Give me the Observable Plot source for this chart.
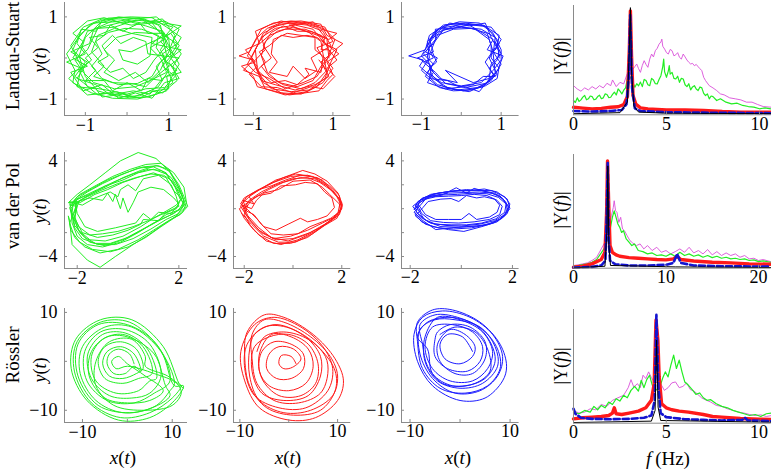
<!DOCTYPE html>
<html><head><meta charset="utf-8">
<script src="https://cdn.jsdelivr.net/npm/d3@7"></script>
<script src="https://cdn.jsdelivr.net/npm/@observablehq/plot@0.6"></script>
<style>
body{margin:0;background:#fff;}
#fig{position:relative;width:771px;height:471px;overflow:hidden;font-family:"Liberation Serif","Times New Roman",serif;color:#000;background:#fff;}
.lbl{position:absolute;white-space:nowrap;transform:translate(-50%,-50%);line-height:1;}
.rot{transform:translate(-50%,-50%) rotate(-90deg);}
i{font-style:italic;}
</style></head><body><div id="fig"></div>
<script>
// ---------------- data ----------------
const rowNames = ["Landau-Stuart", "van der Pol", "Rössler"];

const lsTicks = [-1, 0, 1], lsLabels = [-1, 1];
const vdpXTicks = [-2, 0, 2], vdpXLabels = [-2, 2];
const vdpYTicks = [-4, -2, 0, 2, 4], vdpYLabels = [-4, 4];
const rosTicks = [-10, 0, 10], rosLabels = [-10, 10];
const specTicksA = [0, 5, 10], specTicksB = [0, 10, 20];

const lsGreen = [[1.05,0.05],[1.0,0.45],[0.75,0.8],[0.3,0.97],[-0.2,0.98],[-0.65,0.85],[-1.0,0.5],[-1.15,0.05],[-1.0,-0.45],[-0.7,-0.8],[-0.2,-0.95],[0.3,-0.92],[0.75,-0.7],[1.0,-0.3],
[0.85,0.1],[1.2,0.35],[0.8,0.6],[0.6,0.85],[0.1,0.8],[-0.35,0.9],[-0.8,0.7],[-0.9,0.35],[-1.35,0.15],[-0.95,-0.1],[-1.2,-0.5],[-0.75,-0.65],[-0.4,-0.9],[0.15,-0.8],[0.55,-0.88],[0.85,-0.5],[1.2,-0.3],[0.9,-0.05],
[0.7,0.25],[0.75,0.55],[0.35,0.7],[-0.05,0.72],[-0.45,0.62],[-0.75,0.4],[-0.6,0.1],[-0.85,-0.2],[-0.6,-0.5],[-0.2,-0.65],[0.25,-0.62],[0.6,-0.45],[0.8,-0.1],
[1.1,0.15],[1.3,0.5],[0.95,0.75],[0.6,0.98],[0.1,1.0],[-0.45,0.97],[-0.9,0.8],[-1.2,0.45],[-1.45,0.1],[-1.25,-0.3],[-1.3,-0.6],[-0.85,-0.85],[-0.35,-0.98],[0.25,-1.0],[0.7,-0.88],[1.1,-0.6],[0.95,-0.25],[1.25,0.0],
[0.5,0.1],[0.45,0.4],[0.15,0.5],[-0.15,0.35],[-0.35,0.55],[-0.6,0.3],[-0.45,0.05],[-0.7,-0.1],[-0.4,-0.35],[-0.1,-0.25],[0.15,-0.5],[0.45,-0.35],[0.65,-0.05],
[0.95,0.3],[0.85,0.65],[0.45,0.78],[0.0,0.9],[-0.5,0.78],[-0.95,0.65],[-1.1,0.3],[-0.85,-0.05],[-1.15,-0.3],[-0.95,-0.7],[-0.5,-0.78],[0.0,-0.88],[0.45,-0.75],[0.9,-0.72],[1.15,-0.45],[0.85,-0.2],[1.1,0.1],
[0.8,0.4],[1.1,0.75],[0.7,0.88],[0.2,0.92],[-0.3,0.75],[-0.7,0.72],[-0.95,0.2],[-1.25,-0.05],[-1.05,-0.35],[-0.8,-0.6],[-0.3,-0.75],[0.2,-0.7],[0.55,-0.55],[0.95,-0.35],[0.8,0.0],[0.55,0.25],[0.9,0.45],
[0.6,0.6],[0.2,0.62],[-0.25,0.5],[-0.55,0.2],[-0.3,-0.05],[-0.55,-0.35],[-0.2,-0.55],[0.2,-0.35],[0.5,-0.6],[0.8,-0.3],[1.0,0.15],[1.15,0.55],[0.85,0.95],[0.35,0.85],[-0.15,0.95],[-0.6,0.95],[-1.05,0.75],[-1.35,0.3],[-1.1,-0.2],[-1.4,-0.5],[-0.95,-0.9],[-0.45,-0.85],[0.05,-0.97],[0.5,-0.95],[0.95,-0.8],[1.05,-0.5],[1.25,-0.15],[1.0,0.3],
[0.9,0.5],[1.3,0.78],[0.9,0.85],[0.7,1.0],[0.2,0.95],[-0.2,1.0],[-0.6,0.9],[-0.75,0.65],[-1.1,0.7],[-1.2,0.35],[-1.0,0.1],[-1.45,-0.1],[-1.1,-0.25],[-1.2,-0.7],[-0.75,-0.75],[-0.6,-0.95],[-0.1,-0.88],[0.3,-0.98],[0.65,-0.8],[1.0,-0.75],[0.95,-0.45],[1.3,-0.35],[1.05,0.0],[1.3,0.2],
[0.6,0.35],[0.9,0.6],[0.5,0.6],[0.3,0.85],[-0.1,0.65],[-0.4,0.8],[-0.55,0.55],[-0.9,0.5],[-0.7,0.25],[-1.0,0.0],[-0.75,-0.3],[-1.0,-0.55],[-0.55,-0.55],[-0.35,-0.8],[0.0,-0.6],[0.35,-0.8],[0.5,-0.5],[0.85,-0.55],[0.7,-0.2],[0.95,0.05],
[0.8,0.8],[0.4,0.95],[-0.1,0.85],[-0.55,0.98],[-0.95,0.9],[-1.3,0.6],[-1.05,0.4],[-1.3,0.0],[-0.95,-0.2],[-1.35,-0.35],[-1.05,-0.8],[-0.6,-0.65],[-0.2,-0.98],[0.2,-0.85],[0.6,-0.98],[0.9,-0.6],[1.25,-0.5],[1.0,-0.1],[1.25,0.3],[1.05,0.6],
[0.4,0.3],[0.1,0.15],[-0.2,0.2],[-0.1,-0.05],[0.25,-0.15],[0.55,0.05],[0.6,0.5],[0.1,0.6],[-0.3,0.72],[-0.7,0.55],[-0.85,0.15],[-0.55,-0.2],[-0.8,-0.45],[-0.35,-0.6],[0.1,-0.62],[0.45,-0.7],[0.7,-0.45],[1.0,-0.2],[0.8,0.2],[1.0,0.5],[0.7,0.7],
[0.3,0.98],[-0.3,0.88],[-0.8,0.85],[-1.15,0.55],[-1.3,0.2],[-1.0,-0.1],[-1.25,-0.45],[-1.05,-0.6],[-0.7,-0.9],[-0.25,-0.82],[0.15,-0.95],[0.55,-0.8],[0.85,-0.85],[1.2,-0.55],[1.1,-0.2],[1.3,0.1],[1.1,0.4],[1.25,0.7],[0.9,0.9],[0.5,0.85]];

const lsRed = [[0.9,0.0],[0.85,0.45],[0.6,0.75],[0.15,0.87],[-0.35,0.82],[-0.75,0.6],[-0.95,0.2],[-0.9,-0.25],[-0.75,-0.6],[-0.3,-0.85],[0.2,-0.88],[0.6,-0.7],[0.85,-0.35],
[0.75,0.1],[0.7,0.4],[0.4,0.62],[0.0,0.75],[-0.4,0.65],[-0.7,0.4],[-0.8,0.05],[-0.65,-0.35],[-0.35,-0.6],[0.1,-0.7],[0.5,-0.55],[0.7,-0.2],
[1.0,0.15],[1.25,0.35],[0.85,0.55],[0.7,0.82],[0.2,0.9],[-0.25,0.88],[-0.65,0.72],[-0.9,0.5],[-1.1,0.15],[-1.36,0.05],[-1.0,-0.05],[-1.25,-0.3],[-0.85,-0.45],[-0.7,-0.75],[-0.2,-0.9],[0.35,-0.82],[0.75,-0.6],[1.0,-0.25],[0.8,0.0],
[0.55,0.2],[0.55,0.5],[0.2,0.55],[-0.15,0.6],[-0.5,0.45],[-0.55,0.1],[-0.4,-0.1],[-0.6,-0.35],[-0.15,-0.45],[0.0,-0.2],[0.3,-0.5],[0.6,-0.3],[0.45,0.0],
[0.95,0.3],[0.75,0.65],[0.35,0.8],[-0.1,0.85],[-0.55,0.75],[-0.85,0.4],[-1.05,0.0],[-0.85,-0.4],[-0.55,-0.75],[-0.05,-0.82],[0.4,-0.78],[0.8,-0.5],[0.95,-0.1],[1.1,0.2],
[0.8,0.35],[0.5,0.7],[0.05,0.8],[-0.45,0.72],[-0.8,0.5],[-0.7,0.2],[-1.0,-0.1],[-0.8,-0.55],[-0.45,-0.65],[0.05,-0.78],[0.55,-0.65],[0.9,-0.45],[0.7,-0.1],[0.95,0.1],
[0.7,0.55],[0.3,0.7],[-0.2,0.7],[-0.6,0.55],[-0.9,0.3],[-1.15,-0.15],[-0.95,-0.35],[-0.6,-0.5],[-0.2,-0.75],[0.25,-0.6],[0.6,-0.45],[0.85,-0.05],[1.05,0.45],[0.8,0.7],[0.35,0.85],[-0.1,0.8],
[0.9,0.45],[1.1,0.6],[0.7,0.7],[0.5,0.88],[0.1,0.82],[-0.3,0.9],[-0.6,0.8],[-0.95,0.65],[-0.85,0.35],[-1.2,0.2],[-0.95,-0.1],[-1.3,-0.2],[-1.0,-0.45],[-0.9,-0.7],[-0.5,-0.8],[-0.1,-0.9],[0.3,-0.85],[0.65,-0.8],[0.85,-0.55],[1.0,-0.4],[0.85,-0.1],[1.15,0.1],
[0.6,0.5],[0.35,0.55],[0.0,0.5],[-0.3,0.55],[-0.6,0.3],[-0.85,0.15],[-0.7,-0.1],[-0.9,-0.3],[-0.55,-0.6],[-0.2,-0.55],[0.1,-0.65],[0.4,-0.4],[0.3,-0.25],[0.7,-0.35],[0.75,0.0],[0.6,0.25],
[1.0,0.4],[0.8,0.75],[0.4,0.85],[-0.05,0.9],[-0.5,0.85],[-0.8,0.7],[-1.0,0.35],[-1.15,0.05],[-0.9,-0.2],[-1.1,-0.4],[-0.8,-0.7],[-0.4,-0.72],[0.0,-0.85],[0.45,-0.7],[0.75,-0.75],[1.05,-0.45],[0.85,-0.25],[1.1,-0.05],[0.9,0.2],
[0.7,0.2],[0.8,0.5],[0.45,0.65],[0.1,0.65],[-0.25,0.78],[-0.55,0.62],[-0.75,0.3],[-0.55,0.0],[-0.8,-0.2],[-0.6,-0.45],[-0.25,-0.65],[0.2,-0.75],[0.55,-0.6],[0.85,-0.3],[0.65,-0.05]];

const lsBlue = [[0.95,0.0],[0.9,0.45],[0.6,0.78],[0.1,0.85],[-0.4,0.8],[-0.75,0.5],[-0.85,0.05],[-0.75,-0.4],[-0.45,-0.7],[0.05,-0.8],[0.55,-0.7],[0.85,-0.35],
[0.8,0.1],[0.85,0.5],[0.5,0.7],[0.0,0.75],[-0.45,0.68],[-0.7,0.35],[-0.95,0.1],[-0.7,-0.15],[-0.85,-0.35],[-0.5,-0.6],[0.0,-0.68],[0.5,-0.6],[0.8,-0.3],[1.0,-0.05],
[1.0,0.2],[0.8,0.6],[0.45,0.85],[-0.05,0.88],[-0.5,0.75],[-0.8,0.55],[-0.9,0.2],[-1.32,0.05],[-0.95,-0.05],[-1.05,-0.2],[-0.7,-0.5],[-0.3,-0.75],[0.2,-0.82],[0.65,-0.62],[0.95,-0.25],[0.75,0.0],
[0.75,0.3],[0.65,0.6],[0.25,0.72],[-0.2,0.7],[-0.6,0.55],[-0.75,0.2],[-0.62,-0.1],[-0.8,-0.25],[-0.55,-0.5],[-0.1,-0.6],[-0.4,-0.3],[0.3,-0.6],[0.7,-0.5],[0.75,-0.15],[1.0,0.1],[0.85,0.4],
[0.9,0.25],[0.95,0.55],[0.55,0.8],[0.05,0.82],[-0.55,0.72],[-0.85,0.4],[-0.8,0.0],[-1.0,-0.3],[-0.6,-0.65],[-0.1,-0.78],[0.4,-0.72],[0.75,-0.55],[1.0,-0.15],[0.8,0.15],
[0.7,0.45],[0.35,0.7],[-0.15,0.78],[-0.6,0.62],[-0.85,0.3],[-0.7,0.0],[-0.95,-0.1],[-0.65,-0.35],[-0.4,-0.62],[0.1,-0.72],[0.6,-0.62],[0.9,-0.4],[0.7,0.0],[0.95,0.35],
[0.85,0.2],[1.0,0.45],[0.75,0.75],[0.3,0.8],[-0.1,0.85],[-0.45,0.8],[-0.7,0.6],[-0.85,0.3],[-1.0,0.05],[-0.75,-0.2],[-0.9,-0.45],[-0.55,-0.72],[-0.2,-0.8],[0.25,-0.78],[0.6,-0.68],[0.9,-0.5],[0.95,-0.2],[1.05,0.05],
[0.65,0.2],[0.8,0.45],[0.55,0.6],[0.2,0.8],[-0.25,0.72],[-0.65,0.7],[-0.65,0.45],[-0.9,0.15],[-0.6,0.0],[-0.75,-0.2],[-0.8,-0.5],[-0.35,-0.55],[-0.05,-0.7],[0.3,-0.65],[0.55,-0.45],[0.85,-0.45],[0.7,-0.25],[0.9,-0.05],
[0.95,0.15],[0.75,0.5],[0.6,0.85],[0.2,0.78],[-0.3,0.85],[-0.55,0.6],[-0.8,0.45],[-0.7,0.15],[-1.1,0.0],[-0.8,-0.15],[-0.7,-0.35],[-0.85,-0.6],[-0.4,-0.75],[0.1,-0.7],[0.45,-0.82],[0.8,-0.4],[0.6,-0.1],[0.85,0.25]];

const vdpGreen = [[-2.2,0.5],[-1.8,1.0],[-1.2,1.6],[-0.5,2.3],[0.2,2.9],[0.8,3.3],[1.3,3.2],[1.7,2.6],[2.0,1.6],[2.2,0.7],[2.1,0.0],[1.6,-0.6],[1.0,-1.2],[0.4,-2.0],[-0.3,-2.8],[-1.0,-3.2],[-1.6,-3.0],[-2.0,-2.3],[-2.2,-1.2],[-2.25,0.0],
[-2.0,0.8],[-1.5,1.2],[-0.9,1.8],[-0.2,2.6],[0.5,3.2],[1.1,3.6],[1.6,3.3],[1.9,2.2],[2.15,1.0],[1.9,0.3],[1.5,-0.2],[1.0,-0.8],[0.5,-1.5],[-0.2,-2.3],[-0.9,-2.7],[-1.5,-2.6],[-1.95,-1.8],[-2.2,-0.5],[-2.3,0.6],
[-1.8,0.3],[-1.3,0.9],[-0.7,1.4],[-0.4,1.0],[-0.3,1.6],[0.0,2.0],[0.3,1.5],[0.6,2.5],[1.2,2.8],[1.7,2.0],[1.9,1.0],[2.0,0.2],[1.5,-0.3],[1.2,-1.0],[0.6,-0.9],[0.5,-1.3],[0.0,-1.8],[-0.6,-2.2],[-1.2,-2.4],[-1.8,-2.0],[-2.1,-0.8],[-2.0,0.2],
[-2.3,0.3],[-1.9,1.2],[-1.3,1.9],[-0.6,2.7],[0.1,3.3],[0.7,3.7],[1.3,3.8],[1.8,3.0],[2.2,1.8],[2.3,0.5],[2.15,-0.3],[1.8,-0.8],[1.3,-1.5],[0.7,-2.4],[0.0,-3.2],[-0.7,-3.6],[-1.4,-3.4],[-1.9,-2.8],[-2.25,-1.8],[-2.35,-0.6],
[-2.3,-1.0],[-2.2,-3.0],[-1.6,-4.3],[-1.1,-4.9],[-0.5,-4.0],[0.2,-3.0],[0.8,-2.2],[1.4,-1.3],[1.9,-0.6],[2.25,0.4],[2.0,1.8],[1.6,3.2],[1.1,4.2],[0.4,4.7],[-0.3,4.0],[-0.9,3.0],[-1.5,2.0],[-2.0,1.2],[-2.35,0.5],
[-2.0,0.6],[-1.5,0.9],[-1.0,0.7],[-0.8,1.3],[-0.6,0.6],[-0.5,1.2],[-0.3,0.0],[-0.2,0.9],[0.0,-0.3],[0.2,0.5],[0.4,1.4],[0.9,1.8],[1.4,1.6],[1.8,0.9],[2.0,0.4],[1.7,-0.4],[1.2,-0.3],[0.9,-0.9],[0.6,-0.4],[0.3,-1.2],[-0.5,-1.6],[-1.2,-1.9],[-1.7,-1.5],[-2.0,-0.4],
[-2.1,0.7],[-1.6,1.4],[-1.0,2.1],[-0.3,2.8],[0.4,3.4],[1.0,3.5],[1.5,3.0],[1.85,1.8],[2.05,0.8],[2.3,0.2],[2.0,-0.4],[1.5,-0.9],[0.9,-1.7],[0.2,-2.5],[-0.5,-3.0],[-1.2,-3.0],[-1.7,-2.4],[-2.1,-1.4],[-2.2,-0.3],[-2.15,0.6],
[-1.9,0.5],[-1.3,1.2],[-0.8,1.6],[-0.2,2.2],[0.5,2.7],[1.0,3.0],[1.5,2.6],[1.8,1.5],[2.1,0.9],[1.9,0.0],[1.3,-0.5],[0.8,-1.0],[0.2,-1.5],[-0.4,-1.9],[-1.0,-2.1],[-1.5,-2.2],[-1.95,-1.5],[-2.15,-0.4],[-2.0,0.5],
[-2.2,0.3],[-1.7,0.9],[-1.1,1.5],[-0.4,2.1],[0.3,2.6],[0.9,2.9],[1.4,2.8],[1.75,2.3],[2.0,1.3],[2.2,0.3],[1.8,-0.4],[1.3,-0.9],[0.7,-1.6],[0.0,-2.4],[-0.7,-2.9],[-1.3,-2.9],[-1.8,-2.5],[-2.1,-1.6],[-2.2,-0.6],
[-2.3,0.1],[-2.0,1.0],[-1.4,1.7],[-0.8,2.4],[-0.1,3.0],[0.6,3.5],[1.2,3.6],[1.65,3.1],[2.0,2.0],[2.2,1.0],[2.35,0.2],[2.05,-0.5],[1.6,-1.0],[1.0,-1.8],[0.4,-2.6],[-0.4,-3.4],[-1.1,-3.7],[-1.7,-3.2],[-2.1,-2.4],[-2.3,-1.2],
[-1.9,0.7],[-1.4,1.3],[-0.9,1.9],[-0.2,2.4],[0.4,3.0],[1.0,3.3],[1.5,2.9],[1.8,2.0],[2.1,1.2],[2.2,0.6],[2.0,-0.1],[1.5,-0.5],[1.1,-1.1],[0.5,-1.8],[-0.2,-2.6],[-0.9,-3.1],[-1.5,-2.8],[-1.9,-2.0],[-2.1,-0.9],[-2.05,0.2]];

const vdpRed = [[-1.9,0.2],[-1.6,0.9],[-1.0,1.6],[-0.4,2.2],[0.3,2.6],[0.9,2.5],[1.4,1.9],[1.8,1.0],[2.0,0.2],[1.8,-0.6],[1.3,-1.3],[0.7,-2.0],[0.0,-2.5],[-0.7,-2.6],[-1.3,-2.0],[-1.7,-1.1],[-1.95,-0.4],
[-2.1,0.4],[-1.7,1.2],[-1.1,1.9],[-0.4,2.6],[0.4,3.2],[0.9,2.9],[1.4,2.3],[1.85,1.3],[2.03,0.3],[1.9,-0.5],[1.5,-1.1],[0.9,-1.9],[0.2,-2.6],[-0.5,-3.0],[-1.1,-2.7],[-1.6,-1.8],[-2.0,-0.8],[-2.2,0.0],
[-1.8,0.6],[-1.4,1.1],[-0.9,1.3],[-0.5,1.9],[0.1,2.0],[0.5,2.2],[1.0,2.1],[1.3,1.4],[1.6,0.9],[1.7,0.1],[1.4,-0.6],[1.0,-0.9],[0.6,-1.1],[0.3,-0.8],[-0.2,-1.3],[-0.7,-1.8],[-1.2,-1.5],[-1.5,-0.8],[-1.85,-0.1],[-2.15,0.4],
[-2.0,0.9],[-1.5,1.5],[-0.8,2.2],[-0.1,2.7],[0.6,2.8],[1.2,2.4],[1.6,1.6],[1.95,0.7],[1.85,-0.3],[1.6,-0.9],[1.1,-1.6],[0.5,-2.2],[-0.2,-2.7],[-0.9,-2.4],[-1.4,-1.6],[-1.85,-0.6],[-2.05,0.3],
[-1.7,0.0],[-1.5,0.7],[-1.2,1.3],[-0.6,1.6],[0.0,2.3],[0.7,2.4],[1.2,1.8],[1.5,1.2],[1.9,0.4],[1.95,-0.2],[1.55,-0.8],[1.2,-1.1],[0.7,-1.5],[0.2,-2.1],[-0.4,-2.2],[-0.9,-2.1],[-1.3,-1.3],[-1.6,-0.5],[-1.9,-0.2],
[-2.05,0.7],[-1.6,0.4],[-1.8,1.0],[-1.3,1.7],[-0.7,2.4],[0.1,2.9],[0.8,2.7],[1.3,2.1],[1.75,1.2],[2.0,0.5],[1.95,-0.1],[1.7,-0.7],[1.2,-1.5],[0.6,-2.4],[-0.1,-2.9],[-0.8,-2.9],[-1.4,-2.2],[-1.75,-1.4],[-2.0,-0.5],[-1.85,0.3],
[-2.0,0.0],[-1.8,0.7],[-1.3,1.4],[-0.7,2.0],[0.0,2.5],[0.6,2.6],[1.1,2.2],[1.6,1.5],[1.9,0.8],[2.0,0.0],[1.7,-0.7],[1.2,-1.2],[0.6,-1.8],[-0.1,-2.3],[-0.8,-2.5],[-1.4,-1.8],[-1.8,-0.9],
[-2.15,0.2],[-1.9,1.0],[-1.4,1.6],[-0.9,1.9],[-0.3,2.4],[0.3,2.8],[1.0,2.6],[1.5,1.9],[1.9,1.1],[2.0,0.1],[1.8,-0.8],[1.3,-1.4],[0.8,-2.1],[0.1,-2.8],[-0.6,-2.8],[-1.2,-2.3],[-1.7,-1.3],[-2.1,-0.4]];

const vdpBlue = [[-1.8,0.0],[-1.6,0.7],[-1.1,1.1],[-0.5,1.3],[0.1,1.35],[0.7,1.4],[1.2,1.3],[1.6,0.9],[1.85,0.2],[1.7,-0.5],[1.3,-1.0],[0.7,-1.3],[0.0,-1.45],[-0.6,-1.4],[-1.2,-1.2],[-1.6,-0.7],
[-1.9,0.2],[-1.5,0.9],[-0.9,1.3],[-0.3,1.5],[0.3,1.5],[0.9,1.65],[1.4,1.4],[1.8,0.8],[1.9,0.0],[1.6,-0.8],[1.1,-1.3],[0.4,-1.6],[-0.3,-1.7],[-0.9,-1.6],[-1.4,-1.3],[-1.8,-0.6],
[-1.5,0.1],[-1.3,0.6],[-0.8,0.8],[-0.4,0.85],[-0.1,0.6],[0.2,1.1],[0.6,0.9],[0.9,1.0],[1.3,0.8],[1.5,0.3],[1.4,-0.3],[1.1,-0.7],[0.6,-0.9],[0.3,-0.4],[0.0,-0.9],[-0.5,-0.9],[-1.0,-0.9],[-1.4,-0.5],
[-1.7,0.4],[-1.3,1.0],[-0.7,1.2],[-0.2,1.75],[0.2,1.3],[0.5,1.7],[1.0,1.4],[1.5,1.1],[1.75,0.5],[1.8,-0.2],[1.5,-0.9],[0.9,-1.4],[0.2,-1.5],[-0.4,-1.6],[-1.0,-1.75],[-1.5,-1.0],[-1.85,-0.3],
[-1.6,0.3],[-1.4,0.8],[-1.0,1.0],[-0.5,1.05],[0.0,1.1],[0.5,1.2],[1.0,1.1],[1.4,0.7],[1.6,0.2],[1.5,-0.5],[1.1,-0.9],[0.5,-1.1],[-0.1,-1.2],[-0.7,-1.15],[-1.2,-1.0],[-1.55,-0.4],[-1.7,0.2],
[-1.85,-0.1],[-1.7,0.6],[-1.2,1.2],[-0.6,1.4],[0.0,1.5],[0.6,1.55],[1.2,1.5],[1.7,1.0],[1.9,0.4],[1.8,-0.4],[1.4,-1.1],[0.8,-1.5],[0.1,-1.9],[-0.5,-1.75],[-1.1,-1.5],[-1.55,-1.1],[-1.8,-0.5],
[-1.75,-0.2],[-1.65,0.5],[-1.25,0.95],[-0.7,1.15],[-0.15,1.2],[0.45,1.3],[1.0,1.25],[1.45,0.95],[1.75,0.4],[1.7,-0.3],[1.35,-0.85],[0.8,-1.2],[0.2,-1.35],[-0.4,-1.35],[-1.0,-1.3],[-1.45,-0.9],
[-1.8,0.3],[-1.55,0.85],[-1.05,1.25],[-0.4,1.45],[0.2,1.6],[0.8,1.5],[1.3,1.3],[1.65,0.75],[1.85,0.1],[1.7,-0.6],[1.25,-1.2],[0.6,-1.45],[-0.1,-1.55],[-0.8,-1.5],[-1.3,-1.1],[-1.7,-0.4]];

const rosGreen = [[1.5,-0.5],[0.5,1.5],[-2,2.5],[-4,1.5],[-4.5,-0.5],[-3,-2.5],[-0.5,-2.5],[1.5,-1],
[3,-2],[1.5,1.5],[-1.5,3],[-4.5,2],[-5.5,-0.5],[-4,-3],[-1,-3.5],[2,-2.5],
[3.5,-1.5],[2,2.5],[-1.5,4],[-5,3],[-6.5,0],[-5,-3.5],[-1,-4.5],[2.5,-3.5],
[5.5,-2.5],[3.5,3],[-1,5.5],[-5.5,4.5],[-8,1],[-7,-4],[-2.5,-6.5],[2.5,-6],[5,-4],
[6.5,-3.5],[4.5,2.5],[-0.5,5.8],[-5.5,5.5],[-8.8,1.5],[-8,-3.5],[-4,-7],[1,-7.5],[5,-6.5],
[7.5,-3],[5,3.5],[-0.5,6.5],[-6,6],[-9.5,2],[-9,-4],[-4.5,-8],[1.5,-8.5],[6,-6.5],
[9.5,-4],[6.5,3.5],[0,7.5],[-6.5,7.5],[-11,3.5],[-11,-3],[-6.5,-9],[0.5,-10.5],[6.5,-9],[9.5,-6],
[10.5,-4.5],[7,2.8],[0.5,8],[-6,8],[-11.2,4],[-11.8,-2],[-8,-8.5],[-1.5,-11.5],[5,-10.5],[10,-7.5],[12,-5],
[11.5,-4.5],[8,3],[1,8.5],[-6,8.5],[-11.5,4.5],[-12.5,-1.5],[-9,-8],[-2,-12],[5,-11.5],[10.5,-8],[12.5,-5],
[10.5,-5],[7.5,2],[1,7],[-5,7],[-10,3],[-10.5,-2.5],[-7,-8],[-1,-10.5],[5.5,-9.5],[9.5,-7],
[8.5,-5],[6,1.5],[0,5],[-4.5,5],[-8,2],[-8.5,-3],[-5,-7.5],[0,-8.5],[5,-8],[8,-6],
[4,-3],[0,-0.5],[-2,1],[-3.5,0],[-2.5,-1.5],[0,-1],[6,-2.5],[11,-4.5],[12,-6.5],[10,-9],[4,-10],[-3,-9],[-7,-5],[-7,0],[-4,4],[1,4.5],[4,1],[4,-1],[9,-3],[12.5,-5.5]];

const rosRed = [[1.5,-0.5],[0.5,1],[-1.5,1.2],[-2,-0.5],[-1,-1.5],[0.8,-1.2],[2.5,0.5],[1,2.5],[-2,3],
[-4,1.5],[-4.5,-1.5],[-2.5,-3.5],[0.5,-3.5],[3,-1.5],[3,1.5],[0.5,3.5],[-3,4],
[-5.5,2],[-6,-2],[-4,-5],[0,-6],[3.5,-4.5],[5,-1],[4,2.5],[0.5,5],[-3.5,5.5],
[-6,1.5],[-5.5,-3.5],[-2,-7],[2.5,-7],[5.5,-4.5],[6,-0.5],[4,3.5],[0,5.5],[-4,5],
[-7,3],[-7.5,-2],[-5.5,-6.5],[-1,-8],[4,-7],[6.5,-3],[6.5,1],[4,4.5],[-0.5,7],[-5,7],
[-8.5,3.5],[-9,-1.5],[-7,-7],[-2,-9.5],[3.5,-9.5],[8,-6],[9,-1.5],[7,3],[2.5,7],[-3,9],[-7,7.5],
[-9.8,2],[-9,-4],[-6,-9.5],[0,-12],[5.5,-11.5],[10,-8],[11.2,-4],[9.5,0.5],[5,5.5],[-1,9],[-5,9.5],[-8.5,6],
[-9,1],[-8,-5],[-4.5,-9.5],[1,-11],[6.5,-10],[9.5,-6],[9.5,-2],[6.5,2.5],[2,6],[-3,7.5],[-7,5.5],
[-8,2.5],[-8,-3],[-6,-8],[-1,-10.5],[4.5,-10],[9,-7],[10,-3],[8.5,1],[4.5,5],[-1,8],[-5,8.5],[-7.5,5.5],
[-7.5,0.5],[-6.5,-4.5],[-3,-8],[2,-8.5],[6.5,-6.5],[8,-2.5],[7.5,1],[4,4.5],[-1,6],[-5,5],[-6.5,2]];

const rosBlue = [[2.5,2],[0.5,5],[-2.5,5.5],[-4,3.5],[-3,0.5],[0,-0.5],[2.5,1],[3,3],[1,5.5],[-2,6.5],
[-4.5,3.5],[-4,0],[-1,-2.5],[2.5,-2.5],[5,0.5],[5,4],[2,7],[-2,7.5],[-4.5,6],
[-5,4.5],[-5,1],[-2.5,-1.5],[1.5,-2],[4,0],[4.5,3],[2.5,6],[-1.5,7.5],
[-5.5,7],[-7,3],[-5.5,-1.5],[-2,-4],[2.5,-4],[5.5,-1.5],[6.5,2],[4.5,6],[0,8.5],[-4.5,9],
[-7,5],[-7,0],[-4.5,-4],[0,-5.5],[4.5,-4.5],[7.5,-1],[7,3],[4,7],[-1,8.5],[-5,8.5],
[-8,6.5],[-8,1.5],[-5.5,-3.5],[-1,-6.5],[4,-6],[7.5,-3],[8.5,1],[6.5,5.5],[2,9],[-3.5,10.3],[-7.5,9],
[-9.2,5.5],[-8.5,0],[-5.5,-5],[0,-8],[5,-7.5],[8.5,-4],[9.3,-1],[8,3.5],[4,8],[-1.5,10.5],[-5.5,10.5],[-8.5,8],
[-8.5,4],[-7.5,-1.5],[-4,-5.5],[1,-6.5],[5.5,-5],[8,-1.5],[7.5,2.5],[4.5,6.5],[-0.5,9],[-5,9.5],[-8,7.5],
[-7.5,3.5],[-6.5,-1],[-3.5,-4.5],[1,-5],[5,-3.5],[7,0],[6,4],[3,7.5],[-2,9],[-6.5,8],[-8.5,5],
[-6.5,2.5],[-5.5,-2.5],[-1.5,-5],[3,-4.5],[6,-2],[5.5,2.5],[3,6],[-1,7],[-4,5.5]];

// spectra: [f (Hz), |Y(f)| in arbitrary units]
const lsSpecMagenta = [[0,27.2],[0.2,24.1],[0.4,22],[0.6,25.1],[0.8,23.2],[1.0,26.3],[1.2,24.1],[1.4,27.2],[1.6,25.1],[1.8,29.4],[2.0,27.2],[2.1,32.5],[2.3,26.3],[2.5,30.3],[2.7,28.8],[2.85,36.5],[3.05,44],[3.2,42.7],[3.3,45],[3.4,47.4],[3.5,43],[3.6,39.6],[3.7,46],[3.8,50.5],[3.9,47],[4.0,44.3],[4.1,52],[4.2,56.7],[4.3,54],[4.4,59.8],[4.5,62],[4.6,65.9],[4.7,68],[4.75,70.6],[4.8,64],[4.9,61.3],[5.0,58],[5.1,56.7],[5.2,61],[5.3,59.8],[5.4,55],[5.5,56],[5.6,58],[5.7,53.6],[5.8,52],[5.9,56.7],[6.0,54],[6.1,51.1],[6.2,49],[6.3,47.4],[6.4,48],[6.5,45.8],[6.6,47],[6.7,44.9],[6.8,43],[6.9,41.2],[7.0,35],[7.1,31.9],[7.3,27.2],[7.5,25.1],[7.7,22.6],[7.9,19.5],[8.1,18.6],[8.4,15.8],[8.7,14.9],[9.0,13.9],[9.3,11.8],[9.6,11.8],[9.9,9.6],[10.2,7.7],[10.6,7.1]];
const lsSpecGreen = [[0,13.3],[0.1,11.5],[0.2,15.8],[0.3,12.5],[0.4,13.9],[0.5,16.5],[0.6,18],[0.7,14],[0.8,14.9],[0.9,17.5],[1.0,17],[1.1,14],[1.2,14.6],[1.3,17],[1.4,18.3],[1.5,15],[1.6,15.8],[1.7,19.5],[1.8,18.9],[1.9,16],[2.0,16.4],[2.1,19],[2.2,21.1],[2.3,18.5],[2.4,24.1],[2.5,22],[2.6,19.5],[2.7,23],[2.8,25.1],[2.95,38],[3.15,32],[3.3,25.7],[3.4,29],[3.5,27],[3.6,30.5],[3.7,26.3],[3.8,33],[3.9,31.9],[4.0,28],[4.1,27.2],[4.2,34],[4.3,32.5],[4.4,29],[4.5,28.8],[4.6,33],[4.7,36.5],[4.8,45],[4.85,52],[4.9,40],[5.0,35],[5.1,41],[5.15,45.8],[5.2,38],[5.3,39.6],[5.4,34],[5.5,33.4],[5.6,36],[5.7,30.3],[5.8,34],[5.9,33.4],[6.0,28],[6.1,26.3],[6.2,29],[6.3,23.2],[6.4,26],[6.5,27.2],[6.6,24],[6.7,22.6],[6.8,26],[6.9,25.1],[7.0,20],[7.1,18],[7.2,19.5],[7.3,14.9],[7.4,17.5],[7.5,17],[7.7,13.3],[7.9,14.9],[8.2,11.8],[8.5,10.2],[8.8,10.8],[9.1,8.7],[9.4,7.7],[9.7,7.1],[10.0,5.6],[10.3,6.5],[10.6,5.6]];
const lsSpecRed = [[0,7],[0.5,6.2],[1.0,5.5],[1.5,6],[2.0,7],[2.4,7.5],[2.7,9.5],[2.9,17],[3.0,60],[3.06,97],[3.12,55],[3.2,18],[3.35,10],[3.6,6.5],[4.0,5.5],[5,4.5],[6,4.5],[7,4],[8,3],[9,2.5],[10.6,2.5]];
const lsSpecBlue = [[0,3.5],[1,3],[2,3.5],[2.6,4.5],[2.85,10],[2.97,35],[3.05,93],[3.15,25],[3.3,6],[3.6,3.5],[5,2.5],[7,2],[10.6,1.5]];
const lsSpecBlack = [[0,1],[2.5,2],[2.9,12],[3.0,60],[3.06,100],[3.12,40],[3.25,8],[3.5,2.5],[5,1.5],[10.6,1]];

const vdpSpecMagenta = [[0,2.5],[0.5,3.1],[1.0,4],[1.5,4.9],[2.0,7.1],[2.5,10],[3.0,17.8],[3.4,24],[3.8,36],[4.1,48.5],[4.3,56],[4.4,62.3],[4.55,53],[4.7,51.5],[4.9,42.3],[5.1,47],[5.3,36.2],[5.5,34.7],[5.8,30],[6.1,25.5],[6.4,23.3],[6.8,20.9],[7.2,22.4],[7.6,17.8],[8.0,20.9],[8.5,16.3],[9.0,19.3],[9.5,14.7],[10.0,16.3],[10.5,13.2],[11.0,15.3],[11.5,17.8],[12.0,14.7],[12.5,19.3],[13.0,14.1],[13.5,16.3],[14.0,13.2],[14.5,17.2],[15.0,12.3],[15.5,15.3],[16.0,11.7],[16.5,14.1],[17.0,11.7],[17.5,13.2],[18.0,10.1],[18.5,11.7],[19.0,8.6],[19.5,9.2],[20.0,7.1],[20.5,8],[21.3,6.1]];
const vdpSpecGreen = [[0,1.8],[0.5,2.5],[1,3.4],[1.5,4],[2,5.5],[2.5,8],[3.0,14.1],[3.4,19.3],[3.9,33],[4.2,47],[4.4,53],[4.6,47],[4.8,40.8],[5.0,37.7],[5.2,33],[5.4,34.7],[5.7,27],[6.0,24],[6.3,20.9],[6.6,22.4],[7.0,16.3],[7.5,15.3],[8.0,13.2],[8.5,14.1],[9.0,11.7],[9.5,12.3],[10.0,11],[10.5,13.2],[11.0,11],[11.5,14.7],[12.0,11.7],[12.5,13.2],[13.0,11],[13.5,12.3],[14.0,10.1],[14.5,11.7],[15.0,9.8],[15.5,11],[16.0,9.2],[16.5,10.1],[17.0,8.6],[17.5,9.2],[18.0,8],[18.5,8.6],[19.0,7.1],[19.5,7.7],[20.0,6.1],[20.5,6.7],[21.3,5.5]];
const vdpSpecRed = [[0,0.9],[1,1.8],[2,4],[3,8],[3.4,14.7],[3.58,51.5],[3.68,99],[3.8,60.7],[3.95,21],[4.2,14.7],[4.6,12.3],[5,11],[6,9.8],[7,9.2],[8,8.6],[9,8],[10,7.7],[10.8,8.6],[11.2,11],[11.6,8],[13,6.7],[15,5.5],[17,4.9],[19,4],[21.3,3.7]];
const vdpSpecBlue = [[0,0.6],[2,1.2],[3,2.5],[3.45,7],[3.6,51.5],[3.7,97.5],[3.8,27],[3.95,7],[4.5,3.7],[6,2.5],[8,2.5],[10,3.1],[10.8,4.9],[11.2,13.2],[11.6,4.9],[13,2.5],[16,1.8],[21.3,1.5]];
const vdpSpecBlack = [[0,0.3],[3.4,1.8],[3.62,36],[3.71,94.5],[3.82,21],[4.0,2.5],[11,1.2],[21.3,0.6]];

const rosSpecMagenta = [[0,11.8],[0.3,9.3],[0.6,10.2],[0.9,13.3],[1.2,12.4],[1.5,17.3],[1.8,15.5],[2.1,21.1],[2.4,23.5],[2.7,25.7],[2.95,32.8],[3.1,40.2],[3.25,33.4],[3.45,36.5],[3.6,32.8],[3.75,44.3],[3.9,41.2],[4.05,47.4],[4.2,42.1],[4.35,38.1],[4.7,36.5],[4.9,30.3],[5.1,32.8],[5.3,37.2],[5.5,38.1],[5.7,32.8],[5.9,34],[6.1,37.2],[6.3,31],[6.5,29.7],[6.7,26.6],[6.9,23.5],[7.1,21.7],[7.4,19.5],[7.7,16.4],[8.0,15.5],[8.3,13.3],[8.6,11.8],[8.9,10.2],[9.2,9.3],[9.5,8],[9.8,7.1],[10.1,7.7],[10.4,6.2],[10.7,7.1]];
const rosSpecGreen = [[0,10.2],[0.3,8.7],[0.6,11.8],[0.9,10.2],[1.1,15.5],[1.3,12.4],[1.5,16.4],[1.7,14.2],[1.9,19.5],[2.1,17.3],[2.3,22.6],[2.5,20.4],[2.7,25.7],[2.9,23.5],[3.1,30.3],[3.3,34],[3.5,29.7],[3.65,39.6],[3.8,32.8],[3.95,40.2],[4.1,44.3],[4.25,35],[4.4,30.3],[4.65,32.8],[4.8,41.2],[4.95,47.4],[5.1,42.7],[5.25,53.6],[5.4,62.8],[5.55,50.5],[5.7,58.2],[5.85,47.4],[6.0,38.1],[6.2,35],[6.4,31],[6.6,26.6],[6.8,27.9],[7.0,23.5],[7.2,21.1],[7.4,21.7],[7.7,18],[8.0,15.5],[8.3,14.2],[8.6,11.8],[8.9,10.2],[9.2,8.7],[9.5,7.1],[9.8,8],[10.1,6.2],[10.4,8.7],[10.7,9.3]];
const rosSpecRed = [[0,4],[0.5,5],[1.0,5.6],[1.5,6.2],[1.9,7.1],[2.1,9.3],[2.2,14.2],[2.3,8.7],[2.6,8],[3.0,9.3],[3.5,11.1],[3.9,14.2],[4.2,21.1],[4.35,36.5],[4.45,95.4],[4.55,76.8],[4.62,42.7],[4.75,18],[5.0,14.2],[5.3,12.4],[5.7,11.1],[6.2,10.2],[7.0,8],[7.5,6.2],[8.0,5.6],[9.0,4.3],[10.0,3.7],[10.7,3.4]];
const rosSpecBlue = [[0,13.3],[0.1,8.7],[0.4,5],[1,4],[2,3.7],[3,4],[3.8,5],[4.2,7.1],[4.38,21],[4.47,100],[4.58,33.4],[4.7,9.3],[5.0,5.6],[6,3.7],[7,3.1],[8,2.5],[9.1,3.1],[9.25,5],[9.4,2.5],[10.7,1.9]];
const rosSpecBlack = [[0,0.6],[4.2,1.9],[4.4,11.8],[4.48,76.8],[4.56,14.9],[4.7,2.5],[10.7,0.9]];

// ---------------- drawing ----------------
const fig = document.getElementById("fig");
const AX = "#8a8a8a";
const FONT = "'Liberation Serif', 'Times New Roman', serif";
const GREEN = "#22ee22", RED = "#ff1a1a", BLUE = "#1a1aff", MAGENTA = "#d94fd9";
const fmt = d => d < 0 ? "\u2212" + (-d) : String(d);

function panel({left, right, top, bottom, xDomain, yDomain, xTicks, yTicks, xLabels, yLabels, marks}) {
  const ml = 44, mr = 8, mt = 6, mb = 30;
  const w = right - left, h = bottom - top;
  const svg = Plot.plot({
    width: w + ml + mr, height: h + mt + mb,
    marginLeft: ml, marginRight: mr, marginTop: mt, marginBottom: mb,
    x: {domain: xDomain, axis: null},
    y: {domain: yDomain, axis: null},
    style: {background: "transparent", overflow: "visible", fontFamily: FONT, fontSize: "18px", color: "#000"},
    marks: [
      ...marks,
      Plot.ruleX([xDomain[0]], {stroke: AX}),
      Plot.ruleY([yDomain[0]], {stroke: AX}),
      Plot.ruleX(xTicks, {x: d => d, stroke: AX, insetTop: h - 3}),
      yTicks.length ? Plot.ruleY(yTicks, {y: d => d, stroke: AX, insetRight: w - 3}) : null,
      Plot.text(xLabels, {x: d => d, frameAnchor: "bottom", dy: 15, text: fmt, fill: "#000", fontSize: 18, fontFamily: FONT}),
      yLabels.length ? Plot.text(yLabels, {y: d => d, frameAnchor: "left", dx: -7, textAnchor: "end", text: fmt, fill: "#000", fontSize: 18, fontFamily: FONT}) : null
    ].filter(Boolean)
  });
  svg.style.position = "absolute";
  svg.style.left = (left - ml) + "px";
  svg.style.top = (top - mt) + "px";
  fig.appendChild(svg);
}

const cols = [[64, 187], [232.7, 350], [400.7, 518.3], [573.3, 771]];
const rows = [[2, 115], [152, 268], [308, 422]];
const specRows = [[5, 114.3], [154, 267.7], [309, 422.7]];

function phase(ci, ri, data, color, xDomain, yDomain, xTicks, yTicks, xLabels, yLabels, curve) {
  panel({left: cols[ci][0], right: cols[ci][1], top: rows[ri][0], bottom: rows[ri][1],
    xDomain, yDomain, xTicks, yTicks, xLabels, yLabels,
    marks: [Plot.line(data, {x: d => d[0], y: d => d[1], stroke: color, strokeWidth: 1, strokeLinejoin: "round", curve})]});
}

phase(0, 0, lsGreen, GREEN, [-1.5, 1.45], [-1.4, 1.35], lsTicks, lsTicks, lsLabels, lsLabels, "linear");
phase(1, 0, lsRed, RED, [-1.5, 1.45], [-1.4, 1.35], lsTicks, lsTicks, lsLabels, lsLabels, "linear");
phase(2, 0, lsBlue, BLUE, [-1.5, 1.45], [-1.4, 1.35], lsTicks, lsTicks, lsLabels, lsLabels, "linear");
phase(0, 1, vdpGreen, GREEN, [-2.5, 2.34], [-5, 4.7], vdpXTicks, vdpYTicks, vdpXLabels, vdpYLabels, "linear");
phase(1, 1, vdpRed, RED, [-2.44, 2.37], [-5, 4.7], vdpXTicks, vdpYTicks, vdpXLabels, vdpYLabels, "linear");
phase(2, 1, vdpBlue, BLUE, [-2.34, 2.26], [-5, 4.7], vdpXTicks, vdpYTicks, vdpXLabels, vdpYLabels, "linear");
phase(0, 2, rosGreen, GREEN, [-14, 13.4], [-12.5, 10.8], rosTicks, rosTicks, rosLabels, rosLabels, "catmull-rom");
phase(1, 2, rosRed, RED, [-11.3, 12.7], [-12.5, 10.8], rosTicks, rosTicks, rosLabels, rosLabels, "catmull-rom");
phase(2, 2, rosBlue, BLUE, [-11.7, 11.8], [-12.5, 10.8], rosTicks, rosTicks, rosLabels, rosLabels, "catmull-rom");

function spectrum(ri, xMax, yMax, ticks, series) {
  const [mag, grn, red, blu, blk] = series;
  const L = {x: d => d[0], y: d => d[1], strokeLinejoin: "round"};
  panel({left: cols[3][0], right: cols[3][1], top: specRows[ri][0], bottom: specRows[ri][1],
    xDomain: [0, xMax], yDomain: [0, yMax], xTicks: ticks, yTicks: [], xLabels: ticks, yLabels: [],
    marks: [
      Plot.line(mag, {...L, stroke: MAGENTA, strokeWidth: 0.9}),
      Plot.line(grn, {...L, stroke: GREEN, strokeWidth: 1.2}),
      Plot.line(red, {...L, stroke: RED, strokeWidth: 3.4}),
      Plot.line(blu, {...L, stroke: "#1414d0", strokeWidth: 2.6, strokeDasharray: "6,3"}),
      Plot.line(blk, {...L, stroke: "#000", strokeWidth: 1})
    ]});
}
spectrum(0, 10.63, 102, specTicksA, [lsSpecMagenta, lsSpecGreen, lsSpecRed, lsSpecBlue, lsSpecBlack]);
spectrum(1, 21.37, 105, specTicksB, [vdpSpecMagenta, vdpSpecGreen, vdpSpecRed, vdpSpecBlue, vdpSpecBlack]);
spectrum(2, 10.66, 105, specTicksA, [rosSpecMagenta, rosSpecGreen, rosSpecRed, rosSpecBlue, rosSpecBlack]);

// ---------------- text labels ----------------
function label(html, x, y, size, rot) {
  const d = document.createElement("div");
  d.className = "lbl" + (rot ? " rot" : "");
  d.style.left = x + "px"; d.style.top = y + "px"; d.style.fontSize = size + "px";
  d.innerHTML = html;
  fig.appendChild(d);
}
const rowY = [56, 206, 355], yLabY = [60, 211, 370], specLabY = [56, 210, 366];
rowNames.forEach((n, i) => {
  label(n, 12, rowY[i], 19, true);
  label("<i>y</i>(<i>t</i>)", 40, yLabY[i], 18, true);
  label("|Y(<i>f</i>)|", 561, specLabY[i], 18, true);
});
[123, 288, 458].forEach(x => label("<i>x</i>(<i>t</i>)", x, 457, 19, false));
label("<i>f</i>\u2009(Hz)", 668, 458, 19, false);
</script></body></html>
